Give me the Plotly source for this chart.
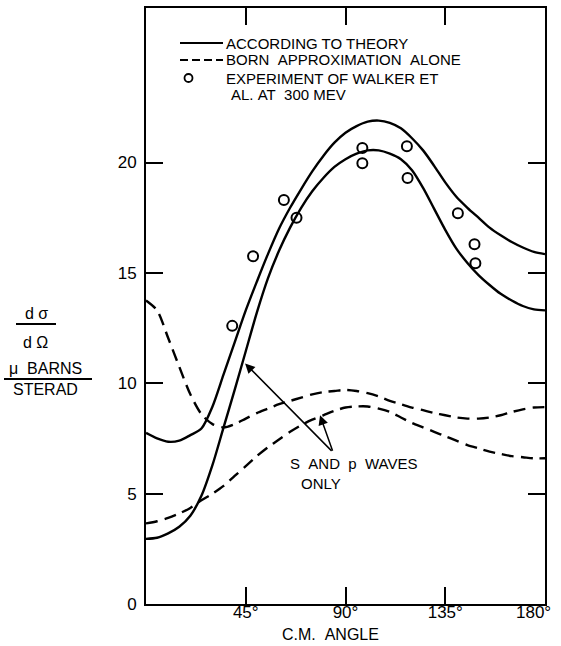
import plotly.graph_objects as go

# ---------------- data ----------------
angle = [0, 5, 10, 15, 20, 25, 30, 35, 40, 45, 50, 55, 60, 65, 70, 75, 80, 85, 90,
         95, 100, 105, 110, 115, 120, 125, 130, 135, 140, 145, 150, 155, 160, 165,
         170, 175, 180]

theory = [7.75, 7.5, 7.35, 7.4, 7.65, 7.95, 8.95, 10.4, 11.85, 13.3, 14.6, 15.85,
          17.0, 17.95, 18.8, 19.6, 20.3, 20.9, 21.35, 21.65, 21.85, 21.9, 21.8,
          21.55, 21.1, 20.55, 19.85, 19.1, 18.45, 17.95, 17.5, 17.05, 16.7, 16.4,
          16.15, 15.95, 15.85]

theory_sp = [2.95, 3.0, 3.2, 3.5, 4.0, 4.9, 6.3, 8.0, 9.7, 11.45, 13.2, 14.75,
             16.0, 17.05, 17.95, 18.7, 19.3, 19.8, 20.15, 20.4, 20.55, 20.55, 20.4,
             20.15, 19.65, 18.85, 17.9, 16.95, 16.1, 15.45, 14.9, 14.45, 14.05, 13.75,
             13.5, 13.35, 13.3]

born = [13.75, 13.3, 12.05, 10.75, 9.5, 8.6, 8.15, 8.0, 8.15, 8.4, 8.65, 8.85,
        9.05, 9.2, 9.35, 9.5, 9.6, 9.65, 9.7, 9.65, 9.55, 9.4, 9.2, 9.05, 8.9,
        8.78, 8.65, 8.55, 8.45, 8.4, 8.4, 8.45, 8.55, 8.7, 8.82, 8.9, 8.92]

born_sp = [3.65, 3.75, 3.9, 4.1, 4.35, 4.7, 5.0, 5.35, 5.8, 6.25, 6.7, 7.1, 7.45,
           7.8, 8.1, 8.35, 8.55, 8.75, 8.9, 8.95, 8.95, 8.85, 8.7, 8.45, 8.2, 8.0,
           7.8, 7.6, 7.4, 7.2, 7.05, 6.9, 6.8, 6.7, 6.65, 6.6, 6.6]

exp_angle = [38.9, 48.3, 62.2, 67.9, 97.6, 97.6, 117.7, 118.0, 140.7, 148.2, 148.6]
exp_value = [12.6, 15.75, 18.3, 17.5, 20.66, 19.97, 20.74, 19.3, 17.7, 16.3, 15.44]

x_tickvals = [45, 90, 135, 180]
x_ticktext = ["45°", "90°", "135°", "180°"]
y_tickvals = [0, 5, 10, 15, 20]
y_ticktext = ["0", "5", "10", "15", "20"]

NB = "\u00a0"
legend_labels = ["ACCORDING TO THEORY",
                 f"BORN{NB}{NB}APPROXIMATION{NB}{NB}ALONE",
                 f"EXPERIMENT OF WALKER ET",
                 f"AL.{NB}AT{NB}{NB}300 MEV"]

# ---------------- layout geometry (pixels) ----------------
W, H = 561, 646
L, R, T, B = 146, 16, 8, 42
PW = W - L - R
PH = H - T - B
FONT = "Liberation Sans, Arial, sans-serif"


def px(xp):
    return (xp - L) / PW


def py(yp):
    return (H - B - yp) / PH


fig = go.Figure()

line_style = dict(color="black", width=2.4, shape="spline", smoothing=0.8)
dash_style = dict(color="black", width=2.4, shape="spline", smoothing=0.8, dash="12px,7px")

fig.add_trace(go.Scatter(x=angle, y=theory, mode="lines", line=line_style, showlegend=False))
fig.add_trace(go.Scatter(x=angle, y=theory_sp, mode="lines", line=line_style, showlegend=False))
fig.add_trace(go.Scatter(x=angle, y=born, mode="lines", line=dash_style, showlegend=False))
fig.add_trace(go.Scatter(x=angle, y=born_sp, mode="lines", line=dash_style, showlegend=False))
fig.add_trace(go.Scatter(x=exp_angle, y=exp_value, mode="markers",
                         marker=dict(symbol="circle-open", size=10, color="black",
                                     line=dict(width=2, color="black")),
                         showlegend=False))

axis_common = dict(showline=True, linecolor="black", linewidth=2, mirror="ticks",
                   ticks="inside", ticklen=17, tickwidth=2, tickcolor="black",
                   showgrid=False, zeroline=False, automargin=False,
                   ticklabeloverflow="allow",
                   tickfont=dict(family=FONT, size=17, color="black"))

# last x tick label (180°) is placed as an annotation so it stays inside the page
fig.update_xaxes(range=[0, 180], tickvals=x_tickvals,
                 ticktext=x_ticktext[:-1] + [""],
                 ticklabelstandoff=-8, **axis_common)
fig.update_yaxes(range=[0, 27], tickvals=y_tickvals, ticktext=y_ticktext,
                 ticklabelstandoff=4, **axis_common)

annotations = []
shapes = []

annotations.append(dict(text=x_ticktext[-1], xref="x", yref="paper", x=x_tickvals[-1],
                        y=py(612), xanchor="right", yanchor="middle", xshift=8,
                        showarrow=False, font=dict(family=FONT, size=17, color="black")))

# legend (drawn manually)
shapes.append(dict(type="line", xref="paper", yref="paper", x0=px(180), x1=px(223),
                   y0=py(43), y1=py(43), line=dict(color="black", width=2)))
shapes.append(dict(type="line", xref="paper", yref="paper", x0=px(180), x1=px(223),
                   y0=py(60), y1=py(60), line=dict(color="black", width=2, dash="8px,4px")))
shapes.append(dict(type="circle", xref="paper", yref="paper", x0=px(184.5), x1=px(192.5),
                   y0=py(82), y1=py(74), line=dict(color="black", width=1.8)))
for lbl, xx, yy in zip(legend_labels, [224, 224, 224, 229], [43, 60, 78, 95]):
    annotations.append(dict(text=lbl, xref="paper", yref="paper", x=px(xx), y=py(yy),
                            xanchor="left", yanchor="middle", showarrow=False,
                            font=dict(family=FONT, size=15, color="black")))

# y-axis title block
ytitle = [(f"d{NB}σ", 36, 313), (f"d{NB}Ω", 35, 342), (f"μ{NB}{NB}BARNS", 45, 368),
          ("STERAD", 45, 389)]
for t, xx, yy in ytitle:
    annotations.append(dict(text=t, xref="paper", yref="paper", x=px(xx), y=py(yy),
                            xanchor="center", yanchor="middle", showarrow=False,
                            font=dict(family=FONT, size=16, color="black")))
shapes.append(dict(type="line", xref="paper", yref="paper", x0=px(16), x1=px(56),
                   y0=py(324), y1=py(324), line=dict(color="black", width=2)))
shapes.append(dict(type="line", xref="paper", yref="paper", x0=px(4), x1=px(92),
                   y0=py(379), y1=py(379), line=dict(color="black", width=2)))

# x-axis title
annotations.append(dict(text=f"C.M.{NB}{NB}ANGLE", xref="paper", yref="paper", x=px(330), y=py(635),
                        xanchor="center", yanchor="middle", showarrow=False,
                        font=dict(family=FONT, size=16, color="black")))

# S and p waves label with arrows
annotations.append(dict(text=f"S{NB}{NB}AND{NB}{NB}p{NB}{NB}WAVES", xref="paper", yref="paper",
                        x=px(354), y=py(463),
                        xanchor="center", yanchor="middle", showarrow=False,
                        font=dict(family=FONT, size=15, color="black")))
annotations.append(dict(text="ONLY", xref="paper", yref="paper", x=px(321), y=py(483),
                        xanchor="center", yanchor="middle", showarrow=False,
                        font=dict(family=FONT, size=15, color="black")))
for hx, hy in [(44.7, 10.9), (78.5, 8.55)]:
    annotations.append(dict(text="", x=hx, y=hy, xref="x", yref="y",
                            ax=84.4, ay=6.87, axref="x", ayref="y",
                            showarrow=True, arrowhead=2, arrowsize=1.3, arrowwidth=1.5,
                            arrowcolor="black"))

fig.update_layout(width=W, height=H, margin=dict(l=L, r=R, t=T, b=B, autoexpand=False),
                  paper_bgcolor="white", plot_bgcolor="white",
                  annotations=annotations, shapes=shapes,
                  font=dict(family=FONT, color="black"))

fig.write_html("out.html")
